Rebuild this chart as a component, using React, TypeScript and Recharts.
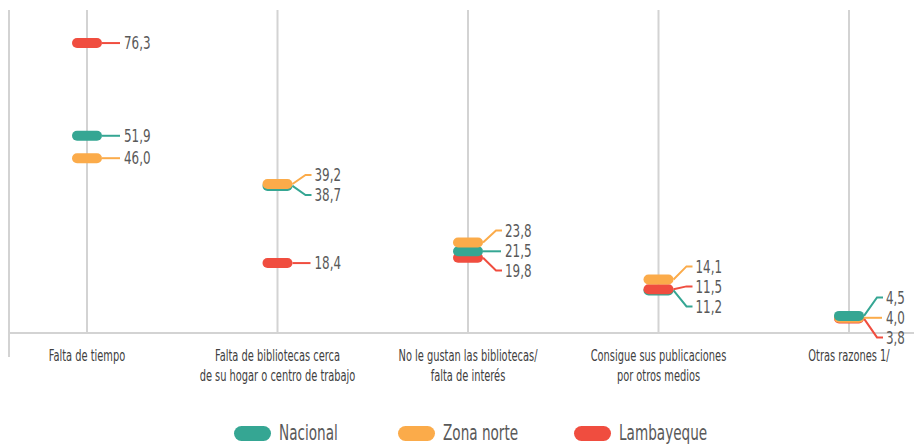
import { LineChart, Line, XAxis, YAxis, CartesianGrid, Legend } from 'recharts';

const categories = [
  'Falta de tiempo',
  'Falta de bibliotecas cerca\nde su hogar o centro de trabajo',
  'No le gustan las bibliotecas/\nfalta de interés',
  'Consigue sus publicaciones\npor otros medios',
  'Otras razones 1/',
];
const nacional = [51.9, 38.7, 21.5, 11.2, 4.5];
const zonaNorte = [46.0, 39.2, 23.8, 14.1, 4.0];
const lambayeque = [76.3, 18.4, 19.8, 11.5, 3.8];

const series = [
  { name: 'Nacional', values: nacional, color: '#35A693', textW: 57 },
  { name: 'Zona norte', values: zonaNorte, color: '#FBAB4A', textW: 69 },
  { name: 'Lambayeque', values: lambayeque, color: '#F04D3F', textW: 82 },
];

// no narrow font installed, so the condensed face gets squeezed a bit more
const FONT = '"DejaVu Sans Condensed", sans-serif';
const W = 914;
const H = 437;
const TOP = 2;
const LEGEND_H = 24;
const AXIS_H = 88;
const PLOT_H = H - TOP - LEGEND_H - AXIS_H;
const Y_MAX = 85;
const PX_PER_UNIT = PLOT_H / Y_MAX;
const LABEL_GAP = 20;
const PAD_LEFT = 78;

// push labels apart when markers of one category sit too close together
function labelOffsets(vals: number[]) {
  const ys = vals.map((v) => -v * PX_PER_UNIT);
  const order = ys.map((_, i) => i).sort((a, b) => ys[a] - ys[b]);
  const groups: number[][] = [];
  order.forEach((i) => {
    const g = groups[groups.length - 1];
    if (g && ys[i] - ys[g[g.length - 1]] < LABEL_GAP) g.push(i);
    else groups.push([i]);
  });
  const off = vals.map(() => 0);
  groups.forEach((g) => {
    const mean = g.reduce((s, i) => s + ys[i], 0) / g.length;
    g.forEach((i, k) => {
      off[i] = mean + (k - (g.length - 1) / 2) * LABEL_GAP - ys[i];
    });
  });
  return off;
}

// rank values inside each category so the higher marker is painted on top
const data = categories.map((cat, c) => {
  const vals = series.map((s) => s.values[c]);
  const offs = labelOffsets(vals);
  const ranked = vals.map((_, i) => i).sort((a, b) => vals[a] - vals[b]);
  const row: any = { cat };
  ranked.forEach((si, r) => {
    row[`v${r}`] = vals[si];
    row[`s${r}`] = si;
    row[`o${r}`] = offs[si];
  });
  return row;
});

const makeDot = (r: number) => (p: any) => {
  const { cx, cy, payload, index } = p;
  if (cx == null || cy == null) return <g key={`d${r}-${index}`} />;
  const s = series[payload[`s${r}`]];
  const v: number = payload[`v${r}`];
  const ly = cy + payload[`o${r}`];
  const x0 = cx + 15;
  const d = Math.abs(ly - cy) < 1
    ? `M${x0},${cy}H${cx + 33}`
    : `M${x0},${cy}L${cx + 28},${ly}H${cx + 34}`;
  return (
    <g key={`d${r}-${index}`}>
      <path d={d} stroke={s.color} strokeWidth={2} fill="none" />
      <rect x={cx - 15} y={cy - 5} width={30} height={10} rx={5} fill={s.color} />
      <text
        transform={`translate(${cx + 37},${ly}) scale(0.78,1)`}
        dy="0.36em"
        fontSize={17}
        fill="#595959"
        fontFamily={FONT}
      >
        {v.toFixed(1).replace('.', ',')}
      </text>
    </g>
  );
};

const CatTick = (p: any) => {
  const { x, y, payload, index } = p;
  const lines = String(payload.value).split('\n');
  return (
    <g>
      {index === 0 && (
        <line x1={x - PAD_LEFT} x2={x - PAD_LEFT} y1={y - 8} y2={y + 16} stroke="#d3d3d3" strokeWidth={2} />
      )}
      <text transform={`translate(${x},${y}) scale(0.73,1)`} textAnchor="middle" fontSize={15} fill="#404040" fontFamily={FONT}>
        {lines.map((l, i) => (
          <tspan key={i} x={0} dy={20}>{l}</tspan>
        ))}
      </text>
    </g>
  );
};

const LegendContent = () => (
  <div style={{ display: 'flex', justifyContent: 'center', alignItems: 'center', height: LEGEND_H, gap: 62, paddingLeft: 4 }}>
    {series.map((s) => (
      <div key={s.name} style={{ display: 'flex', alignItems: 'center' }}>
        <span style={{ width: 37, height: 15, borderRadius: 8, background: s.color, marginRight: 8 }} />
        <span style={{ display: 'inline-block', width: s.textW }}>
          <span
            style={{
              display: 'inline-block',
              whiteSpace: 'nowrap',
              transform: 'scaleX(0.72)',
              transformOrigin: 'left center',
              fontFamily: FONT,
              fontSize: 21,
              color: '#595959',
            }}
          >
            {s.name}
          </span>
        </span>
      </div>
    ))}
  </div>
);

export default function App() {
  return (
    <LineChart width={W} height={H} data={data} margin={{ top: TOP, right: 0, bottom: 0, left: 1 }}>
      <CartesianGrid horizontal={false} stroke="#d3d3d3" strokeWidth={2} />
      <XAxis
        dataKey="cat"
        scale="point"
        padding={{ left: PAD_LEFT, right: 73 }}
        height={AXIS_H}
        axisLine={{ stroke: '#d3d3d3', strokeWidth: 2 }}
        tickLine={false}
        tick={<CatTick />}
        interval={0}
      />
      <YAxis hide domain={[0, Y_MAX]} />
      <Legend verticalAlign="bottom" height={LEGEND_H} content={<LegendContent />} />
      {[0, 1, 2].map((r) => (
        <Line
          key={r}
          dataKey={`v${r}`}
          stroke="none"
          isAnimationActive={false}
          activeDot={false}
          dot={makeDot(r)}
          legendType="none"
        />
      ))}
    </LineChart>
  );
}
